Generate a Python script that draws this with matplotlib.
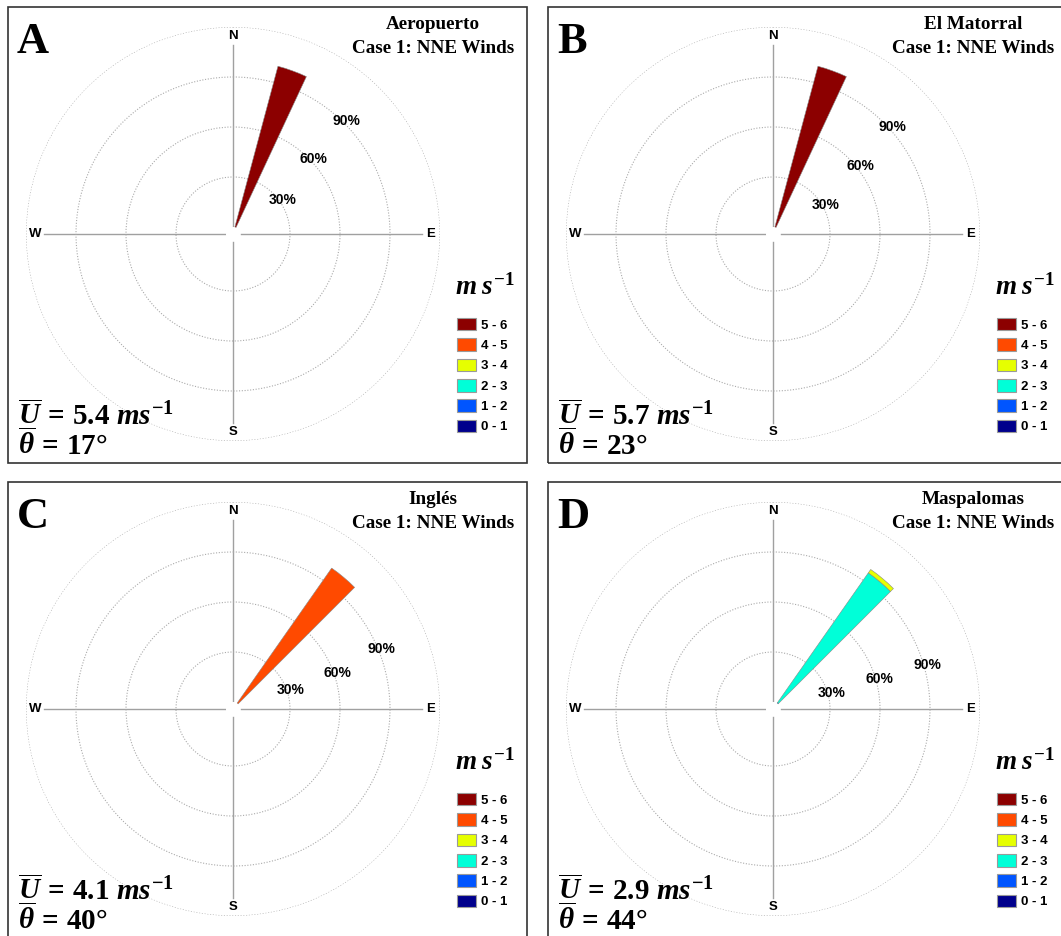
import numpy as np
import matplotlib
matplotlib.use("Agg")
import matplotlib.pyplot as plt
from matplotlib.patches import Rectangle, Patch

plt.rcParams['mathtext.fontset'] = 'custom'
plt.rcParams['mathtext.it'] = 'Liberation Serif:italic:bold'
plt.rcParams['mathtext.rm'] = 'Liberation Serif:bold'
plt.rcParams['mathtext.bf'] = 'Liberation Serif:bold'

# speed bins (m/s) and colours
bins = ['0 - 1', '1 - 2', '2 - 3', '3 - 4', '4 - 5', '5 - 6']
bin_colors = ['#00008c', '#0055ff', '#00ffd8', '#e6ff00', '#ff4a00', '#8c0000']

letters = ['A', 'B', 'C', 'D']
stations = ['Aeropuerto', 'El Matorral', 'Inglés', 'Maspalomas']
case_label = 'Case 1: NNE Winds'
mean_speed = ['5.4', '5.7', '4.1', '2.9']
mean_dir = ['17', '23', '40', '44']

# sector centre (deg) and frequency (%) per speed bin, 0-1 ... 5-6
sector_dir = [20, 20, 40, 40]
freq_A = [0, 0, 0, 0, 0, 100]
freq_B = [0, 0, 0, 0, 0, 100]
freq_C = [0, 0, 0, 0, 99, 0]
freq_D = [0, 0.5, 95, 2.5, 0, 0]
freqs = [freq_A, freq_B, freq_C, freq_D]

ring_ticks = [30, 60, 90, 120]
ring_labels = ['30%', '60%', '90%']
label_angles = [[56, 47, 45], [61, 52, 48], [72, 71, 68], [75, 74, 74]]

W, H = 1061, 936
fig = plt.figure(figsize=(W / 100, H / 100), dpi=100)

def fx(x):
    return x / W

def fy(y):
    return 1 - y / H

origins = [(8, 7), (548, 7), (8, 482), (548, 482)]
R_px = 207
hole = 4.2

for k, (ox, oy) in enumerate(origins):
    # panel frame
    fig.add_artist(Rectangle((fx(ox), fy(oy + 456)), 519 / W, 456 / H,
                             transform=fig.transFigure, fill=False,
                             edgecolor='#333333', lw=1.2))
    cx, cy = ox + 225, oy + 227
    ax = fig.add_axes([fx(cx - R_px), fy(cy + R_px), 2 * R_px / W, 2 * R_px / H],
                      projection='polar')
    ax.set_theta_zero_location('N')
    ax.set_theta_direction(-1)
    ax.set_rorigin(-hole)
    ax.set_ylim(0, 120)
    ax.set_yticks(ring_ticks)
    ax.set_yticklabels([])
    ax.set_xticks([])
    ax.xaxis.grid(False)
    ax.yaxis.grid(True, color='#aaaaaa', lw=0.8, ls=(0, (1, 1.5)))
    for sp in ax.spines.values():
        sp.set_visible(False)
        sp.set_linewidth(0)
    ax.patch.set_alpha(0)

    # cross lines and compass labels
    for ang, lab in zip([0, 90, 180, 270], ['N', 'E', 'S', 'W']):
        t = np.deg2rad(ang)
        ax.plot([t, t], [0.5, 109], color='#a0a0a0', lw=1, zorder=1)
        ax.text(t, 114.5, lab, ha='center', va='center', fontsize=9.5,
                fontweight='bold', family='Liberation Sans')

    # stacked wind rose sector
    bottom = 0
    for f, c in zip(freqs[k], bin_colors):
        if f > 0:
            ax.bar(np.deg2rad(sector_dir[k]), f, width=np.deg2rad(10), bottom=bottom,
                   color=c, edgecolor='#888888', lw=0.4, zorder=3)
            bottom += f

    for lab, r, a in zip(ring_labels, ring_ticks, label_angles[k]):
        ax.text(np.deg2rad(a), r + 2, lab, ha='center', va='center', fontsize=10,
                fontweight='bold', family='Liberation Sans', zorder=4)

    # texts
    fig.text(fx(ox + 9), fy(oy + 46), letters[k], family='Liberation Serif',
             fontweight='bold', fontsize=32, va='baseline', ha='left')
    fig.text(fx(ox + 425), fy(oy + 22), stations[k], family='Liberation Serif',
             fontweight='bold', fontsize=13.8, va='baseline', ha='center')
    fig.text(fx(ox + 425), fy(oy + 46), case_label, family='Liberation Serif',
             fontweight='bold', fontsize=13.8, va='baseline', ha='center')
    fig.text(fx(ox + 507), fy(oy + 288), r'$m\;s^{-1}$', fontsize=19.5,
             va='baseline', ha='right')
    fig.text(fx(ox + 10), fy(oy + 418),
             r'$\overline{U}\,=\,\mathrm{' + mean_speed[k] + r'}\ ms^{-1}$',
             fontsize=21, va='baseline', ha='left')
    fig.text(fx(ox + 10), fy(oy + 448),
             r'$\overline{\theta}\,=\,\mathrm{' + mean_dir[k] + r'°}$',
             fontsize=21, va='baseline', ha='left')

    handles = [Patch(facecolor=c, edgecolor='#9a9a9a', lw=0.8, label=b)
               for b, c in zip(bins[::-1], bin_colors[::-1])]
    fig.legend(handles=handles, loc='upper left',
               bbox_to_anchor=(fx(ox + 449), fy(oy + 311)),
               bbox_transform=fig.transFigure, frameon=False,
               prop={'family': 'Liberation Sans', 'weight': 'bold', 'size': 9.5},
               handlelength=1.45, handleheight=1.08, labelspacing=0.5,
               handletextpad=0.4, borderpad=0, borderaxespad=0)

fig.savefig('out.png', dpi=100)
